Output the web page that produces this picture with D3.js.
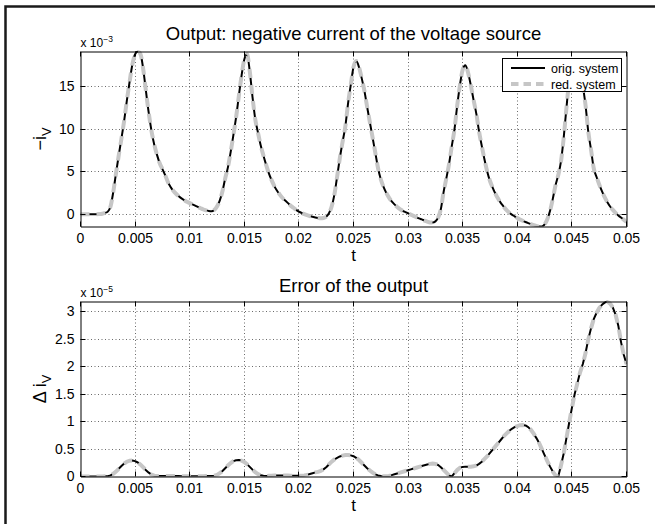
<!DOCTYPE html>
<html><head><meta charset="utf-8">
<script src="https://cdn.jsdelivr.net/npm/d3@7"></script>
<style>
body{margin:0;background:#fff}
svg{display:block}
text{font-family:"Liberation Sans",Arial,Helvetica,sans-serif;fill:#000}
</style>
</head><body>
<svg id="chart" width="655" height="524"></svg>
<script>
// ---------------- data ----------------
// sampling step of the time axis t (s)
const tStep = 0.00025;
// -i_V in units of 1e-3, original system
const outputOrig = [
 0,0,0,0,0,0,0,0.02,0.05,0.15,
 0.3,0.9,2.6,4.8,6.9,8.9,11.0,13.4,15.6,17.6,
 18.8,19.13,18.8,17.0,14.4,11.9,9.8,8.2,7.0,6.0,
 5.3,4.6,3.8,3.2,2.75,2.4,2.1,1.85,1.65,1.45,
 1.3,1.15,1.0,0.85,0.7,0.55,0.45,0.38,0.35,0.5,
 0.9,1.6,2.7,4.2,5.5,7.3,9.3,11.4,13.9,16.3,
 18.2,18.8,16.8,13.8,11.2,9.6,8.1,6.9,5.8,4.8,
 4.0,3.3,2.75,2.3,1.9,1.6,1.3,1.0,0.75,0.5,
 0.3,0.15,0.0,-0.12,-0.22,-0.3,-0.38,-0.44,-0.48,-0.45,
 -0.3,0.1,0.9,2.3,4.4,6.6,8.5,10.3,13.0,15.2,
 17.3,18.0,17.3,16.0,14.5,12.6,10.8,9.0,7.2,5.4,
 4.1,3.2,2.5,1.95,1.5,1.15,0.85,0.6,0.4,0.25,
 0.1,-0.05,-0.2,-0.35,-0.5,-0.62,-0.75,-0.87,-0.97,-0.98,
 -0.85,-0.4,0.6,2.6,4.2,5.9,8.0,10.0,12.8,15.2,
 17.0,17.5,16.6,15.1,13.4,11.8,9.7,8.0,6.4,5.0,
 3.9,3.1,2.4,1.8,1.3,0.9,0.5,0.2,-0.05,-0.25,
 -0.45,-0.62,-0.78,-0.92,-1.05,-1.17,-1.28,-1.38,-1.45,-1.45,
 -1.2,-0.6,0.4,1.8,3.4,4.6,6.2,9.0,12.5,15.6,
 16.8,17.0,16.7,16.0,15.0,12.8,9.7,7.6,5.4,4.4,
 3.5,2.7,2.0,1.4,0.9,0.5,0.15,-0.15,-0.4,-0.65,
 -0.9
];
// -i_V in units of 1e-3, reduced system (visually identical)
const outputRed = [
 0,0,0,0,0,0,0,0.02,0.05,0.15,
 0.3,0.9,2.6,4.8,6.9,8.9,11.0,13.4,15.6,17.6,
 18.8,19.13,18.8,17.0,14.4,11.9,9.8,8.2,7.0,6.0,
 5.3,4.6,3.8,3.2,2.75,2.4,2.1,1.85,1.65,1.45,
 1.3,1.15,1.0,0.85,0.7,0.55,0.45,0.38,0.35,0.5,
 0.9,1.6,2.7,4.2,5.5,7.3,9.3,11.4,13.9,16.3,
 18.2,18.8,16.8,13.8,11.2,9.6,8.1,6.9,5.8,4.8,
 4.0,3.3,2.75,2.3,1.9,1.6,1.3,1.0,0.75,0.5,
 0.3,0.15,0.0,-0.12,-0.22,-0.3,-0.38,-0.44,-0.48,-0.45,
 -0.3,0.1,0.9,2.3,4.4,6.6,8.5,10.3,13.0,15.2,
 17.3,18.0,17.3,16.0,14.5,12.6,10.8,9.0,7.2,5.4,
 4.1,3.2,2.5,1.95,1.5,1.15,0.85,0.6,0.4,0.25,
 0.1,-0.05,-0.2,-0.35,-0.5,-0.62,-0.75,-0.87,-0.97,-0.98,
 -0.85,-0.4,0.6,2.6,4.2,5.9,8.0,10.0,12.8,15.2,
 17.0,17.5,16.6,15.1,13.4,11.8,9.7,8.0,6.4,5.0,
 3.9,3.1,2.4,1.8,1.3,0.9,0.5,0.2,-0.05,-0.25,
 -0.45,-0.62,-0.78,-0.92,-1.05,-1.17,-1.28,-1.38,-1.45,-1.45,
 -1.2,-0.6,0.4,1.8,3.4,4.6,6.2,9.0,12.5,15.6,
 16.8,17.0,16.7,16.0,15.0,12.8,9.7,7.6,5.4,4.4,
 3.5,2.7,2.0,1.4,0.9,0.5,0.15,-0.15,-0.4,-0.65,
 -0.9
];
// error of the output, units of 1e-5
const errorOrig = [
 0,0,0,0,0,0,0,0,0.002,0.003,
 0.005,0.02,0.05,0.09,0.14,0.19,0.235,0.27,0.288,0.29,
 0.28,0.255,0.215,0.165,0.115,0.07,0.035,0.015,0.008,0.008,
 0.008,0.01,0.01,0.01,0.01,0.01,0.008,0.006,0.005,0.004,
 0.003,0.003,0.003,0.004,0.005,0.006,0.008,0.009,0.01,0.015,
 0.03,0.06,0.1,0.15,0.2,0.245,0.28,0.297,0.3,0.29,
 0.265,0.225,0.175,0.125,0.08,0.045,0.022,0.012,0.01,0.012,
 0.015,0.018,0.02,0.02,0.02,0.02,0.018,0.015,0.012,0.012,
 0.012,0.015,0.02,0.03,0.045,0.06,0.075,0.085,0.1,0.13,
 0.17,0.22,0.27,0.31,0.34,0.365,0.38,0.39,0.39,0.385,
 0.37,0.34,0.3,0.25,0.2,0.15,0.11,0.07,0.04,0.02,
 0.008,0.003,0.005,0.01,0.025,0.04,0.055,0.07,0.085,0.1,
 0.115,0.13,0.145,0.16,0.175,0.19,0.205,0.22,0.23,0.235,
 0.23,0.21,0.17,0.12,0.07,0.02,0.0,0.06,0.12,0.16,
 0.175,0.18,0.18,0.18,0.185,0.2,0.23,0.27,0.32,0.37,
 0.43,0.49,0.55,0.61,0.67,0.73,0.78,0.83,0.87,0.9,
 0.92,0.935,0.94,0.93,0.9,0.85,0.78,0.7,0.61,0.5,
 0.39,0.28,0.18,0.09,0.02,0.0,0.2,0.42,0.7,0.98,
 1.25,1.5,1.7,1.9,2.05,2.25,2.5,2.7,2.87,2.98,
 3.07,3.13,3.17,3.19,3.15,3.08,2.95,2.75,2.45,2.22,
 2.05
];
const errorRed = [
 0,0,0,0,0,0,0,0,0.002,0.003,
 0.005,0.02,0.05,0.09,0.14,0.19,0.235,0.27,0.288,0.29,
 0.28,0.255,0.215,0.165,0.115,0.07,0.035,0.015,0.008,0.008,
 0.008,0.01,0.01,0.01,0.01,0.01,0.008,0.006,0.005,0.004,
 0.003,0.003,0.003,0.004,0.005,0.006,0.008,0.009,0.01,0.015,
 0.03,0.06,0.1,0.15,0.2,0.245,0.28,0.297,0.3,0.29,
 0.265,0.225,0.175,0.125,0.08,0.045,0.022,0.012,0.01,0.012,
 0.015,0.018,0.02,0.02,0.02,0.02,0.018,0.015,0.012,0.012,
 0.012,0.015,0.02,0.03,0.045,0.06,0.075,0.085,0.1,0.13,
 0.17,0.22,0.27,0.31,0.34,0.365,0.38,0.39,0.39,0.385,
 0.37,0.34,0.3,0.25,0.2,0.15,0.11,0.07,0.04,0.02,
 0.008,0.003,0.005,0.01,0.025,0.04,0.055,0.07,0.085,0.1,
 0.115,0.13,0.145,0.16,0.175,0.19,0.205,0.22,0.23,0.235,
 0.23,0.21,0.17,0.12,0.07,0.02,0.0,0.06,0.12,0.16,
 0.175,0.18,0.18,0.18,0.185,0.2,0.23,0.27,0.32,0.37,
 0.43,0.49,0.55,0.61,0.67,0.73,0.78,0.83,0.87,0.9,
 0.92,0.935,0.94,0.93,0.9,0.85,0.78,0.7,0.61,0.5,
 0.39,0.28,0.18,0.09,0.02,0.0,0.2,0.42,0.7,0.98,
 1.25,1.5,1.7,1.9,2.05,2.25,2.5,2.7,2.87,2.98,
 3.07,3.13,3.17,3.19,3.15,3.08,2.95,2.75,2.45,2.22,
 2.05
];
const xTicks = [0,0.005,0.01,0.015,0.02,0.025,0.03,0.035,0.04,0.045,0.05];
const xTickLabels = ["0","0.005","0.01","0.015","0.02","0.025","0.03","0.035","0.04","0.045","0.05"];
const topYTicks = [0,5,10,15];
const topYTickLabels = ["0","5","10","15"];
const botYTicks = [0,0.5,1,1.5,2,2.5,3];
const botYTickLabels = ["0","0.5","1","1.5","2","2.5","3"];
const legendLabels = ["orig. system","red. system"];
const titles = ["Output: negative current of the voltage source","Error of the output"];

// ---------------- drawing ----------------
const svg = d3.select("#chart");
svg.append("rect").attr("width",655).attr("height",524).attr("fill","#fff");
svg.append("path").attr("d","M5.5,524V6.5H655").attr("fill","none")
  .attr("stroke","#1a1a1a").attr("stroke-width",2.5);

const FONT = '"Liberation Sans",Arial,Helvetica,sans-serif';
const BLACK_W = 2, GRAY_W = 4, GRAY = "#c6c6c6";

function panel(cfg){
  const g = svg.append("g");
  const x = d3.scaleLinear().domain([0, 0.05]).range([cfg.left, cfg.right]);
  const y = d3.scaleLinear().domain(d3.extent(cfg.orig)).range([cfg.bottom, cfg.top]);
  const px = v => Math.floor(x(v)) + 0.5;
  const py = v => Math.floor(y(v)) + 0.5;

  // grid
  g.append("g").selectAll("line").data(xTicks.filter(v => v > 0 && v < 0.05)).join("line")
    .attr("x1", px).attr("x2", px).attr("y1", cfg.top).attr("y2", cfg.bottom)
    .attr("stroke","#6a6a6a").attr("stroke-width",1).attr("stroke-dasharray","1,2.5");
  g.append("g").selectAll("line").data(cfg.yTicks.filter(v => py(v) < cfg.bottom - 1 && py(v) > cfg.top + 1)).join("line")
    .attr("y1", py).attr("y2", py).attr("x1", cfg.left).attr("x2", cfg.right)
    .attr("stroke","#6a6a6a").attr("stroke-width",1).attr("stroke-dasharray","1,2.5");

  // data lines
  const clipId = "clip" + cfg.id;
  svg.append("defs").append("clipPath").attr("id", clipId).append("rect")
    .attr("x", cfg.left).attr("y", cfg.top - 1).attr("width", cfg.right - cfg.left).attr("height", cfg.bottom - cfg.top + 1);
  const line = d3.line().x((d,i) => x(i * tStep)).y(d => y(d)).curve(cfg.curve);
  const lg = g.append("g").attr("clip-path", `url(#${clipId})`);
  lg.append("path").attr("d", line(cfg.orig)).attr("fill","none")
    .attr("stroke","#000").attr("stroke-width",BLACK_W).attr("stroke-linejoin","round");
  lg.append("path").attr("d", line(cfg.red)).attr("fill","none")
    .attr("stroke",GRAY).attr("stroke-width",GRAY_W).attr("stroke-dasharray","9,7");

  // axes (inward ticks on all four sides)
  const xb = g.append("g").attr("transform",`translate(0,${cfg.bottom})`)
    .call(d3.axisBottom(x).tickValues(xTicks).tickFormat((d,i) => xTickLabels[i]).tickSize(-5).tickSizeOuter(0).tickPadding(7));
  const xt = g.append("g").attr("transform",`translate(0,${cfg.top})`)
    .call(d3.axisTop(x).tickValues(xTicks).tickFormat("").tickSize(-5).tickSizeOuter(0));
  const yl = g.append("g").attr("transform",`translate(${cfg.left},0)`)
    .call(d3.axisLeft(y).tickValues(cfg.yTicks).tickFormat((d,i) => cfg.yTickLabels[i]).tickSize(-5).tickSizeOuter(0).tickPadding(6));
  const yr = g.append("g").attr("transform",`translate(${cfg.right},0)`)
    .call(d3.axisRight(y).tickValues(cfg.yTicks).tickFormat("").tickSize(-5).tickSizeOuter(0));
  [xb, xt, yl, yr].forEach(a => {
    a.attr("font-family", FONT).attr("font-size", 14);
    a.selectAll("line").attr("stroke","#000");
    a.select(".domain").attr("stroke","#000");
    a.selectAll("text").attr("fill","#000");
  });
  // snap tick lines to pixels
  [xb, xt].forEach(a => a.selectAll(".tick").attr("transform", d => `translate(${px(d)},0)`));
  [yl, yr].forEach(a => a.selectAll(".tick").attr("transform", d => `translate(0,${py(d)})`));

  // exponent label
  const ex = g.append("text").attr("x", cfg.left).attr("y", cfg.top - 5)
    .attr("font-size", 12);
  ex.append("tspan").text("x 10");
  ex.append("tspan").attr("dy", -5).attr("font-size", 8.5).text(cfg.exp);

  // title
  g.append("text").attr("x", (cfg.left + cfg.right) / 2).attr("y", cfg.titleY)
    .attr("text-anchor","middle").attr("font-size", 18.5).text(cfg.title);

  // x label
  g.append("text").attr("x", (cfg.left + cfg.right) / 2).attr("y", cfg.bottom + 34)
    .attr("text-anchor","middle").attr("font-size", 17).text("t");

  // y label
  const ylab = g.append("text")
    .attr("transform", `translate(${cfg.yLabelX},${(cfg.top + cfg.bottom) / 2}) rotate(-90)`)
    .attr("text-anchor","middle").attr("font-size", 18);
  ylab.append("tspan").text(cfg.yLabelMain);
  ylab.append("tspan").attr("dy", 5).attr("font-size", 13).text("V");
  return {x, y};
}

panel({id:"top", left:80.5, right:626.5, top:51.5, bottom:226.5,
  orig: outputOrig, red: outputRed, yTicks: topYTicks, yTickLabels: topYTickLabels,
  exp: "\u22123", title: titles[0], titleY: 40, yLabelMain: "\u2212i", yLabelX: 46,
  curve: d3.curveMonotoneX});
panel({id:"bot", left:80.5, right:626.5, top:301.5, bottom:476.5,
  orig: errorOrig, red: errorRed, yTicks: botYTicks, yTickLabels: botYTickLabels,
  exp: "\u22125", title: titles[1], titleY: 291.5, yLabelMain: "\u0394 i", yLabelX: 46,
  curve: d3.curveLinear});

// legend
const leg = svg.append("g");
leg.append("rect").attr("x",502.5).attr("y",58.5).attr("width",119).attr("height",33)
  .attr("fill","#fff").attr("stroke","#000").attr("stroke-width",1);
const legY = [68, 84];
leg.append("line").attr("x1",511).attr("x2",545).attr("y1",legY[0]).attr("y2",legY[0])
  .attr("stroke","#000").attr("stroke-width",BLACK_W);
leg.append("line").attr("x1",511).attr("x2",545).attr("y1",legY[1]).attr("y2",legY[1])
  .attr("stroke",GRAY).attr("stroke-width",GRAY_W).attr("stroke-dasharray","7.5,5");
leg.selectAll("text.lbl").data(legendLabels).join("text").attr("class","lbl")
  .attr("x",551).attr("y",(d,i) => legY[i] + 4.5).attr("font-size",12.5).text(d => d);
</script>
</body></html>
